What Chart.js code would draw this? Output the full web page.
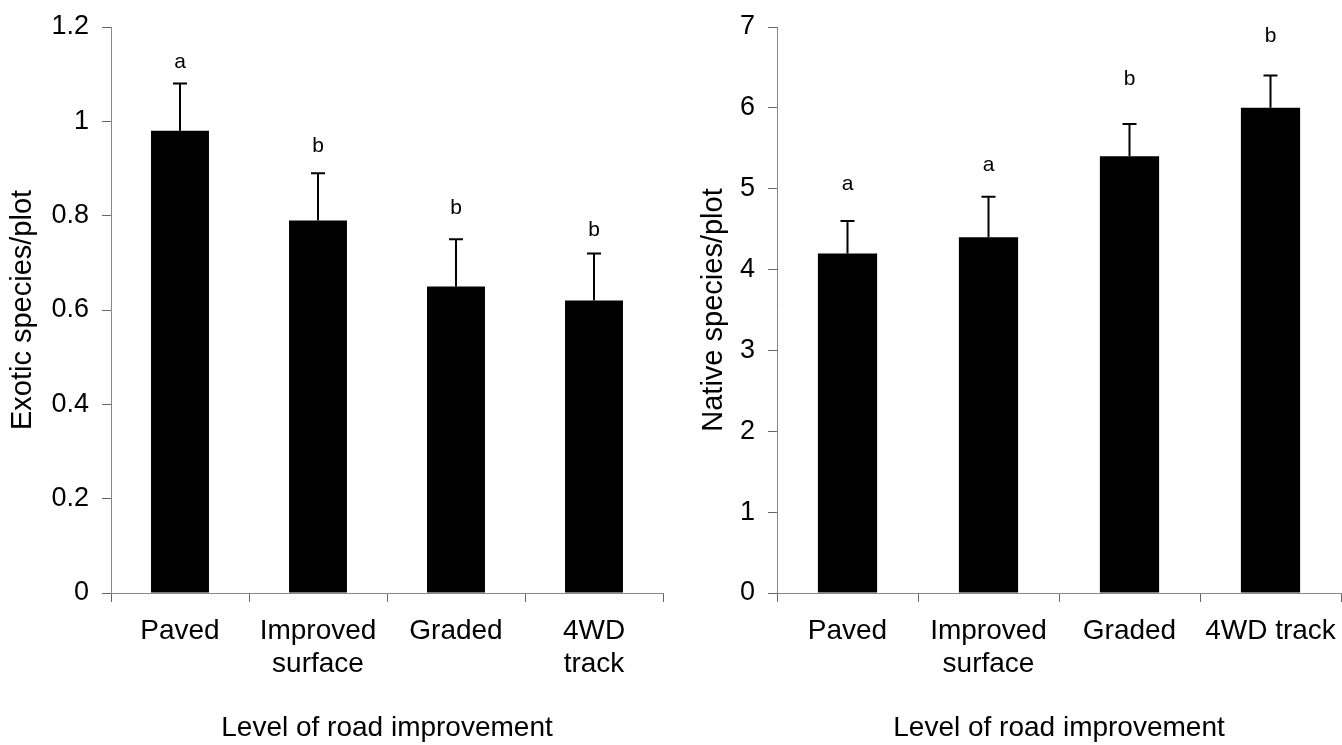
<!DOCTYPE html>
<html>
<head>
<meta charset="utf-8">
<script src="https://cdn.jsdelivr.net/npm/chart.js@4.4.0/dist/chart.umd.min.js"></script>
<style>
  body { margin: 0; background: #fff; }
  .panel { position: absolute; top: 0; height: 745px; }
  #left-panel { left: 0; width: 670px; }
  #right-panel { left: 670px; width: 672px; }
</style>
</head>
<body>
<div class="panel" id="left-panel"><canvas id="exotic-chart"></canvas></div>
<div class="panel" id="right-panel"><canvas id="native-chart"></canvas></div>
<script>
// values
let exoticRoads = ["Paved", ["Improved", "surface"], "Graded", ["4WD", "track"]];
let exoticMeans = [0.98, 0.79, 0.65, 0.62];
let exoticErrorTops = [1.08, 0.89, 0.75, 0.72];
let exoticLetters = ["a", "b", "b", "b"];
let exoticLetterHeights = [1.126, 0.948, 0.816, 0.77];

let nativeRoads = ["Paved", ["Improved", "surface"], "Graded", "4WD track"];
let nativeMeans = [4.2, 4.4, 5.4, 6.0];
let nativeErrorTops = [4.6, 4.9, 5.8, 6.4];
let nativeLetters = ["a", "a", "b", "b"];
let nativeLetterHeights = [5.05, 5.29, 6.36, 6.89];

const FONT = "'Liberation Sans', Arial, sans-serif";

// upper error bar with cap, plus significance letter
const errorBars = {
  id: "errorBars",
  afterDatasetsDraw(chart, args, opts) {
    const ctx = chart.ctx;
    const y = chart.scales.y;
    const bars = chart.getDatasetMeta(0).data;
    ctx.save();
    ctx.strokeStyle = "#000";
    ctx.fillStyle = "#000";
    ctx.lineWidth = 2;
    ctx.font = "21px 'Liberation Sans Narrow', 'Liberation Sans', sans-serif";
    ctx.textAlign = "center";
    ctx.textBaseline = "middle";
    bars.forEach((bar, i) => {
      const top = y.getPixelForValue(opts.tops[i]);
      ctx.beginPath();
      ctx.moveTo(bar.x, bar.y);
      ctx.lineTo(bar.x, top);
      ctx.moveTo(bar.x - 7, top);
      ctx.lineTo(bar.x + 7, top);
      ctx.stroke();
      ctx.fillText(opts.letters[i], bar.x, y.getPixelForValue(opts.letterHeights[i]));
    });
    ctx.restore();
  },
};

function makeChart(el, cfg) {
  return new Chart(el.getContext("2d"), {
    type: "bar",
    data: {
      labels: cfg.labels,
      datasets: [
        {
          data: cfg.means,
          backgroundColor: "#000",
          borderWidth: 0,
          categoryPercentage: 1,
          barPercentage: 0.42,
        },
      ],
    },
    plugins: [errorBars],
    options: {
      responsive: true,
      maintainAspectRatio: false,
      animation: false,
      devicePixelRatio: 1,
      layout: { padding: { top: 27, right: cfg.padRight, bottom: 0, left: 0 } },
      plugins: {
        legend: { display: false },
        tooltip: { enabled: false },
        errorBars: {
          tops: cfg.tops,
          letters: cfg.letters,
          letterHeights: cfg.letterHeights,
        },
      },
      scales: {
        x: {
          grid: { offset: true, drawOnChartArea: false, tickLength: 9, color: "#666" },
          border: { color: "#888", width: 1 },
          ticks: {
            color: "#000",
            padding: 13,
            maxRotation: 0,
            autoSkip: false,
            font: { family: FONT, size: 28, lineHeight: 1.18 },
          },
          title: {
            display: true,
            text: "Level of road improvement",
            color: "#000",
            padding: { top: 0, bottom: 0 },
            font: { family: FONT, size: 28 },
          },
          afterFit(scale) {
            scale.height = 152;
            scale.paddingLeft = 0;
            scale.paddingRight = 0;
          },
        },
        y: {
          min: 0,
          max: cfg.max,
          grid: { drawOnChartArea: false, tickLength: 9, color: "#666" },
          border: { color: "#888", width: 1 },
          ticks: {
            stepSize: cfg.step,
            color: "#000",
            padding: 13,
            font: { family: FONT, size: 27 },
            callback: (v) => String(Number(v.toFixed(1))),
          },
          title: {
            display: true,
            text: cfg.yTitle,
            color: "#000",
            padding: { top: cfg.titlePad, bottom: 0 },
            font: { family: FONT, size: 29 },
          },
          afterFit(scale) {
            scale.width = cfg.axisX;
            scale.paddingTop = 0;
            scale.paddingBottom = 0;
          },
        },
      },
    },
  });
}

makeChart(document.getElementById("exotic-chart"), {
  labels: exoticRoads,
  means: exoticMeans,
  tops: exoticErrorTops,
  letters: exoticLetters,
  letterHeights: exoticLetterHeights,
  max: 1.2,
  step: 0.2,
  yTitle: "Exotic species/plot",
  titlePad: 6,
  axisX: 111,
  padRight: 7,
});

makeChart(document.getElementById("native-chart"), {
  labels: nativeRoads,
  means: nativeMeans,
  tops: nativeErrorTops,
  letters: nativeLetters,
  letterHeights: nativeLetterHeights,
  max: 7,
  step: 1,
  yTitle: "Native species/plot",
  titlePad: 27,
  axisX: 107,
  padRight: 1,
});
</script>
</body>
</html>
